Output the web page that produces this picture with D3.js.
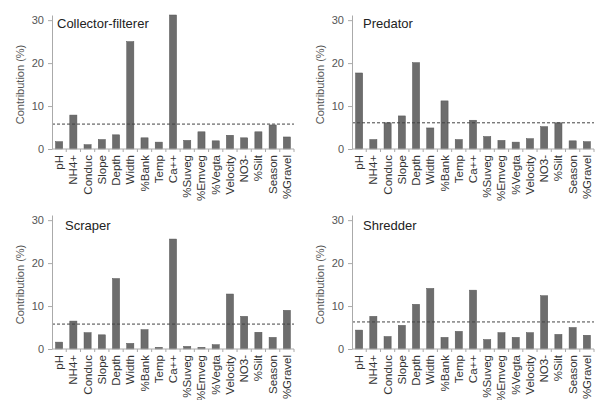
<!DOCTYPE html>
<html>
<head>
<meta charset="utf-8">
<script src="https://cdnjs.cloudflare.com/ajax/libs/d3/7.8.5/d3.min.js"></script>
<style>
  body { margin: 0; background: #fff; }
  svg text { font-family: "Liberation Sans", Arial, sans-serif; }
</style>
</head>
<body>
<div id="chart"></div>
<script>
// variables on the x axis
const variables = ["pH", "NH4+", "Conduc", "Slope", "Depth", "Width", "%Bank", "Temp", "Ca++",
    "%Suveg", "%Emveg", "%Vegta", "Velocity", "NO3-", "%Silt", "Season", "%Gravel"];

const panelNames = ["Collector-filterer", "Predator", "Scraper", "Shredder"];

// contribution (%)
const collectorFilterer = [1.7, 7.9, 1.0, 2.2, 3.3, 25.0, 2.6, 1.6, 31.2, 2.0, 4.0, 1.9, 3.2, 2.6, 4.0, 5.6, 2.8];
const predator = [17.7, 2.2, 6.1, 7.7, 20.1, 4.9, 11.2, 2.2, 6.7, 2.9, 2.0, 1.6, 2.4, 5.2, 6.1, 1.9, 1.7];
const scraper = [1.6, 6.5, 3.8, 3.3, 16.4, 1.3, 4.5, 0.4, 25.6, 0.6, 0.4, 1.0, 12.8, 7.6, 3.9, 2.7, 9.0];
const shredder = [4.4, 7.6, 2.9, 5.5, 10.4, 14.1, 2.7, 4.1, 13.7, 2.2, 3.8, 2.7, 3.8, 12.4, 3.4, 5.0, 3.2];

// dashed reference line per panel
const thresholds = [5.8, 6.1, 5.8, 6.3];

const yTicks = [0, 10, 20, 30];

const series = [collectorFilterer, predator, scraper, shredder];

let svg = d3.select("#chart").append("svg")
    .attr("width", 595)
    .attr("height", 400);

// panel geometry
let axisLeft = 52, axisRight = 294, zeroY = 149, topY = 15;
let colStep = 300, rowStep = 200;
let titleShift = [5, 11, 13, 11];

series.forEach((vals, p) => {
    let col = p % 2, row = Math.floor(p / 2);
    let g = svg.append("g")
        .attr("transform", "translate(" + (col * colStep) + "," + (row * rowStep) + ")");

    let data = variables.map((v, i) => ({name: v, value: vals[i]}));

    let x = d3.scaleBand()
        .domain(variables)
        .range([axisLeft, axisRight])
        .paddingInner(0.5)
        .paddingOuter(0.25);

    let y = d3.scaleLinear()
        .domain([0, 31.2])
        .range([zeroY, topY]);

    // bars
    g.selectAll(".bar")
        .data(data)
        .enter()
        .append("rect")
        .attr("class", "bar")
        .attr("x", d => x(d.name))
        .attr("width", x.bandwidth())
        .attr("y", d => y(d.value))
        .attr("height", d => zeroY - y(d.value))
        .attr("fill", "#6d6d6d")
        .attr("stroke", "#555")
        .attr("stroke-width", 0.5);

    // dashed line
    g.append("line")
        .attr("x1", axisLeft)
        .attr("x2", axisRight)
        .attr("y1", y(thresholds[p]))
        .attr("y2", y(thresholds[p]))
        .attr("stroke", "#444")
        .attr("stroke-width", 1)
        .attr("stroke-dasharray", "3,2");

    // y axis
    let yAxis = g.append("g")
        .attr("transform", "translate(" + axisLeft + ",0)")
        .call(d3.axisLeft(y).tickValues(yTicks).tickSize(4).tickSizeOuter(0).tickPadding(4));
    yAxis.select(".domain").attr("stroke", "#aaa");
    yAxis.selectAll(".tick line").attr("stroke", "#aaa");
    yAxis.selectAll("text")
        .attr("fill", "#555")
        .attr("font-size", 11);

    // x axis, ticks between categories
    let xg = g.append("g")
        .attr("transform", "translate(0," + zeroY + ")");
    xg.append("line")
        .attr("x1", axisLeft)
        .attr("x2", axisRight)
        .attr("stroke", "#aaa");
    let step = x.step();
    xg.selectAll(".xtick")
        .data(variables)
        .enter()
        .append("line")
        .attr("x1", d => x(d) + x.bandwidth() / 2 + step / 2)
        .attr("x2", d => x(d) + x.bandwidth() / 2 + step / 2)
        .attr("y1", 0)
        .attr("y2", 3)
        .attr("stroke", "#aaa");
    xg.selectAll(".xlabel")
        .data(variables)
        .enter()
        .append("text")
        .attr("transform", d => "translate(" + (x(d) + x.bandwidth() / 2 + 4) + ",6) rotate(-90)")
        .attr("text-anchor", "end")
        .attr("font-size", 11.5)
        .attr("fill", "#333")
        .text(d => d);

    // y axis label
    g.append("text")
        .attr("transform", "translate(" + (axisLeft - 28) + "," + ((zeroY + 20) / 2) + ") rotate(-90)")
        .attr("text-anchor", "middle")
        .attr("font-size", 11)
        .attr("fill", "#555")
        .text("Contribution (%)");

    // panel title
    g.append("text")
        .attr("x", axisLeft + titleShift[p])
        .attr("y", 28 + row * 2)
        .attr("font-size", 13)
        .attr("fill", "#222")
        .text(panelNames[p]);
});
</script>
</body>
</html>
